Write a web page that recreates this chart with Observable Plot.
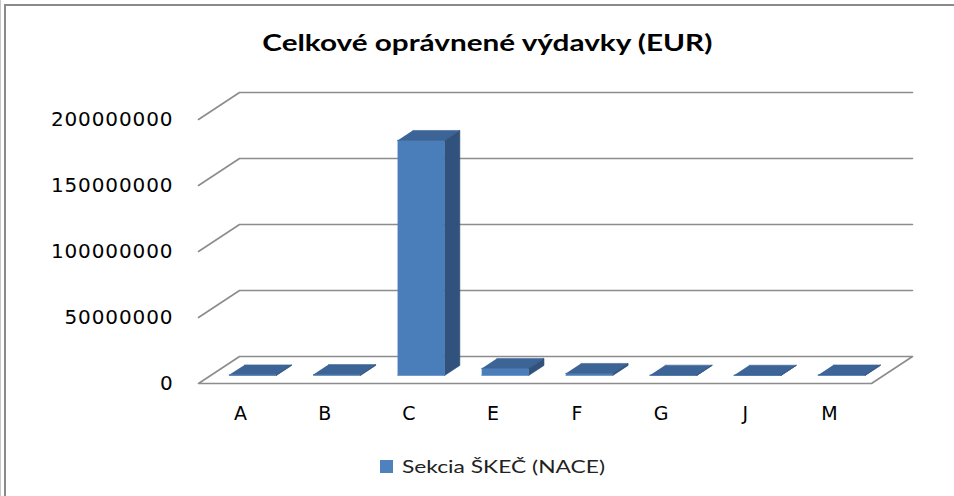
<!DOCTYPE html>
<html><head><meta charset="utf-8">
<script src="https://cdn.jsdelivr.net/npm/d3@7"></script>
<script src="https://cdn.jsdelivr.net/npm/@observablehq/plot@0.6"></script>
<style>
body{margin:0;background:#fff;}
#wrap{position:relative;width:954px;height:496px;overflow:hidden;background:#fff;}
#title{position:absolute;left:0;width:974px;top:28px;text-align:center;font:700 23px Lato;color:#000;white-space:nowrap;}
#title span{display:inline-block;transform-origin:center;}
#chart{position:absolute;left:0;top:70px;}
#legend{position:absolute;left:380px;top:455px;height:22px;display:flex;align-items:center;font:400 18px Lato;color:#222;white-space:nowrap;}
#legend .sw{width:13px;height:13px;background:#4f81bd;margin-right:9px;}
#legend .lt{display:inline-block;transform-origin:left center;}
.bl{position:absolute;left:4px;top:5px;width:2px;height:491px;background:#8a8a8a;}
.bl2{position:absolute;left:0px;top:0px;width:1px;height:496px;background:#c8c8c8;}
.bt{position:absolute;left:4px;top:4px;width:950px;height:2px;background:#8a8a8a;}
</style></head><body>
<div id="wrap">
  <div class="bl2"></div><div class="bl"></div><div class="bt"></div>
  <div id="title"><span>Celkové oprávnené výdavky (EUR)</span></div>
  <div id="chart"></div>
  <div id="legend"><div class="sw"></div><span class="lt" id="legtext"></span></div>
</div>
<script>
// ---- data ----
const categories = ["A", "B", "C", "E", "F", "G", "J", "M"];
const values = [400000, 600000, 178000000, 5300000, 1500000, 200000, 150000, 350000];
const yTicks = [0, 50000000, 100000000, 150000000, 200000000];
const seriesName = "Sekcia ŠKEČ (NACE)";

// ---- 3D oblique projection (depth expressed in data units) ----
const depthX = 0.4875;      // category units per full depth
const depthY = 20450000;    // value units per full depth
const half = 0.28;          // half bar width (category units)
const d0 = 0.3, d1 = 0.67;  // bar depth span
const P = (c, v, d) => ({x: c + d * depthX, y: v + d * depthY});

const xMin = -0.5, xMax = categories.length - 0.5;

// gridlines on back wall + side wall
const gridPts = [];
yTicks.slice(1).forEach(t => {
  [P(xMin, t, 0), P(xMin, t, 1), P(xMax, t, 1)].forEach(p => gridPts.push({...p, k: t}));
});
const floorPts = [P(xMin, 0, 0), P(xMin, 0, 1), P(xMax, 0, 1), P(xMax, 0, 0), P(xMin, 0, 0)];

const frontFaces = [], topFaces = [], sideFaces = [];
values.forEach((v, i) => {
  [P(i - half, 0, d0), P(i + half, 0, d0), P(i + half, v, d0), P(i - half, v, d0)].forEach(p => frontFaces.push({...p, k: i}));
  [P(i - half, v, d0), P(i + half, v, d0), P(i + half, v, d1), P(i - half, v, d1)].forEach(p => topFaces.push({...p, k: i}));
  [P(i + half, 0, d0), P(i + half, 0, d1), P(i + half, v, d1), P(i + half, v, d0)].forEach(p => sideFaces.push({...p, k: i}));
});

const chart = Plot.plot({
  width: 954,
  height: 370,
  marginLeft: 198,
  marginRight: 83,
  marginTop: 49,
  marginBottom: 57,
  style: {fontFamily: "DejaVu Sans", background: "transparent", overflow: "visible"},
  x: {type: "linear", domain: [xMin, xMax]},
  y: {type: "linear", domain: [0, 200000000]},
  marks: [
    Plot.line(floorPts, {x: "x", y: "y", fill: "#fff", stroke: "#8c8c8c", strokeWidth: 1.6}),
    Plot.line(gridPts, {x: "x", y: "y", z: "k", stroke: "#8c8c8c", strokeWidth: 1.6}),
    Plot.line(frontFaces, {x: "x", y: "y", z: "k", fill: "#4a7ebb", stroke: "#4a7ebb", strokeWidth: 0.6}),
    Plot.line(topFaces, {x: "x", y: "y", z: "k", fill: "#3c6496", stroke: "#3c6496", strokeWidth: 0.6}),
    Plot.line(sideFaces, {x: "x", y: "y", z: "k", fill: "#31527c", stroke: "#31527c", strokeWidth: 0.6}),
    Plot.axisY(yTicks, {anchor: "left", tickSize: 0, tickPadding: 25, tickFormat: d3.format("d"), fontSize: 20, fill: "#000", label: null}),
    Plot.axisX(d3.range(categories.length), {tickSize: 0, tickPadding: 23, tickFormat: i => categories[i], fontSize: 19, fill: "#000", label: null})
  ]
});
document.getElementById("chart").appendChild(chart);
d3.select(chart).selectAll("[aria-label='y-axis tick label'] text").attr("letter-spacing", "0.9px");
document.getElementById("legtext").textContent = seriesName;

// stretch title/legend text to match the reference widths
function fit(el, w) {
  const cw = el.getBoundingClientRect().width;
  if (cw > 0) el.style.transform = `scaleX(${w / cw})`;
}
fit(document.querySelector("#title span"), 450);
fit(document.getElementById("legtext"), 203);
</script>
</body></html>
